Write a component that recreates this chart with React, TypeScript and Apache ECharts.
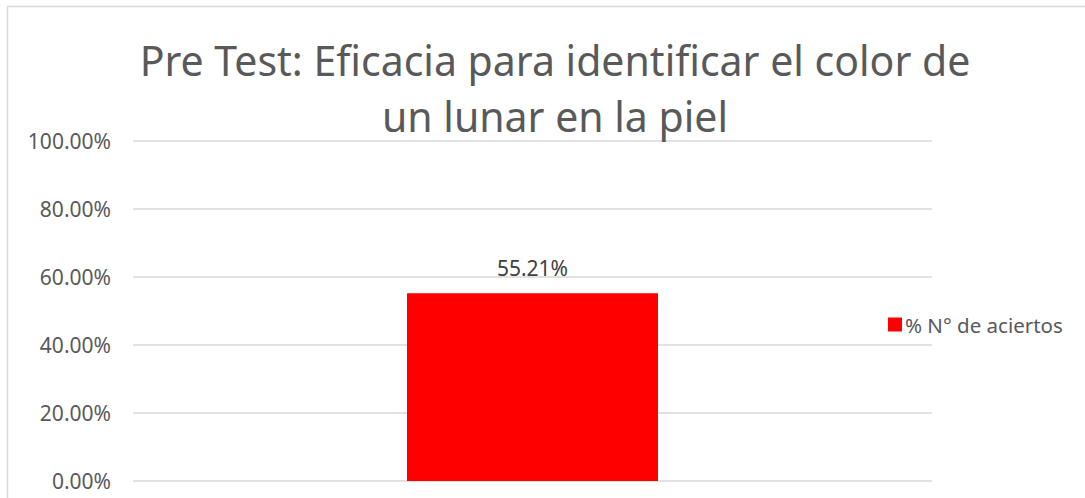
import React, { useEffect, useRef } from "react";
import * as echarts from "echarts";

const categories = [""];
const seriesName = "% N° de aciertos";
const values = [0.5521];
const yTicks = [0, 0.2, 0.4, 0.6, 0.8, 1.0];
const titleLines = ["Pre Test: Eficacia para identificar el color de", "un lunar en la piel"];

const FONT = "'Noto Sans', sans-serif";

export default function App() {
  const ref = useRef<HTMLDivElement>(null);
  useEffect(() => {
    if (!ref.current) return;
    const chart = echarts.init(ref.current, null, { renderer: "svg" });
    chart.setOption({
      animation: false,
      backgroundColor: "#ffffff",
      textStyle: { fontFamily: FONT },
      graphic: [
        {
          type: "rect",
          shape: { x: 7.5, y: 6.5, width: 1100, height: 600 },
          style: { fill: "none", stroke: "#d9d9d9", lineWidth: 1.5 },
          silent: true,
          z: -1,
        },
      ],
      title: {
        text: titleLines.join("\n"),
        left: 550,
        top: 27,
        textAlign: "center",
        textStyle: {
          fontFamily: FONT,
          fontSize: 41,
          fontWeight: "normal",
          color: "#595959",
          lineHeight: 56,
        },
      },
      legend: {
        data: [seriesName],
        left: 883,
        top: 309,
        orient: "vertical",
        icon: "rect",
        itemWidth: 14,
        itemHeight: 14,
        itemGap: 6,
        textStyle: { fontFamily: FONT, fontSize: 20.5, color: "#595959", padding: [0, 0, 0, -2] },
      },
      grid: { left: 133, right: 153, top: 141, bottom: 17, containLabel: false },
      xAxis: {
        type: "category",
        data: categories,
        axisLine: { show: false },
        axisTick: { show: false },
        axisLabel: { show: false },
      },
      yAxis: {
        type: "value",
        min: yTicks[0],
        max: yTicks[yTicks.length - 1],
        interval: 0.2,
        axisLine: { show: false },
        axisTick: { show: false },
        splitLine: { lineStyle: { color: "#d9d9d9", width: 1.5 } },
        axisLabel: {
          fontFamily: FONT,
          fontSize: 21,
          color: "#595959",
          margin: 22,
          formatter: (v: number) => (v * 100).toFixed(2) + "%",
        },
      },
      series: [
        {
          name: seriesName,
          type: "bar",
          data: values,
          barWidth: 251,
          itemStyle: { color: "#ff0000" },
          label: {
            show: true,
            position: "top",
            distance: 15,
            fontFamily: FONT,
            fontSize: 21,
            color: "#404040",
            formatter: (p: any) => (p.value * 100).toFixed(2) + "%",
          },
        },
      ],
    });
    return () => chart.dispose();
  }, []);
  return (
    <div
      ref={ref}
      style={{ position: "absolute", left: 0, top: 0, width: 1085, height: 498 }}
    />
  );
}
